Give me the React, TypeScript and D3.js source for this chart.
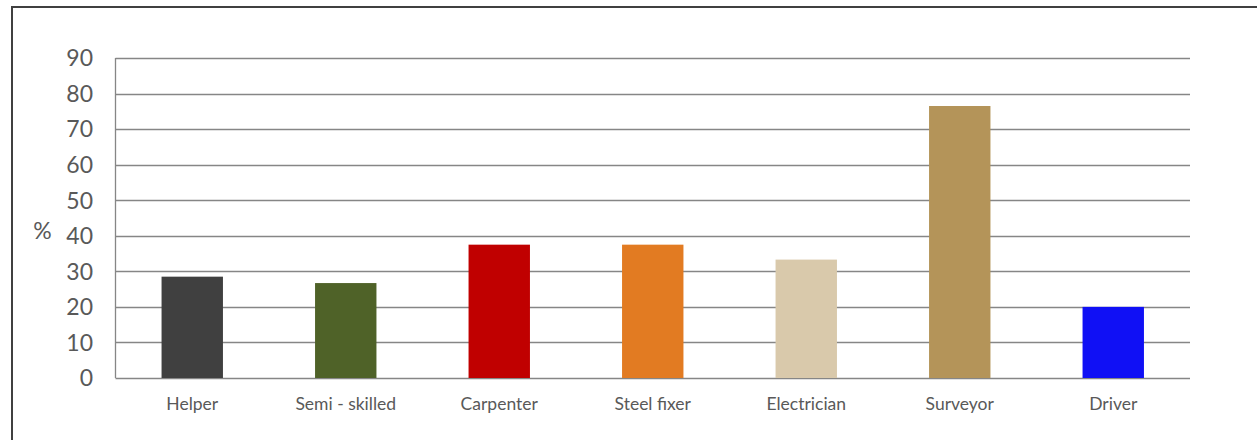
import React from "react";
import * as d3 from "d3";

const categories = ["Helper", "Semi - skilled", "Carpenter", "Steel fixer", "Electrician", "Surveyor", "Driver"];
const values = [28.5, 26.7, 37.5, 37.5, 33.3, 76.5, 20.0];
const colors = ["#404040", "#4F6228", "#C00000", "#E27B22", "#D9C9AB", "#B49459", "#1010F5"];
const yTicks = [0, 10, 20, 30, 40, 50, 60, 70, 80, 90];
const yLabel = "%";

const W = 1257;
const H = 440;
const left = 115.5;
const right = 1190;
const top = 58;
const bottom = 378;
const font = "Lato, 'Open Sans', sans-serif";

export default function App() {
  const x = d3.scaleBand<string>().domain(categories).range([left, right]).paddingInner(0.6).paddingOuter(0.3);
  const y = d3.scaleLinear().domain([0, 90]).range([bottom, top]);
  return (
    <svg width={W} height={H} style={{ position: "absolute", left: 0, top: 0, background: "#fff" }}>
      <rect x={12} y={7} width={W + 20} height={H + 20} fill="#fff" stroke="#404040" strokeWidth={2} />
      {yTicks.map((t) => (
        <line key={"g" + t} x1={left} x2={right} y1={Math.round(y(t)) + 0.5} y2={Math.round(y(t)) + 0.5} stroke="#868686" strokeWidth={1.3} />
      ))}
      <line x1={left} x2={left} y1={top} y2={bottom} stroke="#868686" strokeWidth={1.3} />
      {categories.map((c, i) => (
        <rect key={c} x={x(c)} y={y(values[i])} width={x.bandwidth()} height={bottom - y(values[i])} fill={colors[i]} />
      ))}
      {yTicks.map((t) => (
        <text key={"t" + t} x={93} y={y(t)} dy="0.36em" textAnchor="end" fontFamily={font} fontSize={23} fill="#595959">
          {t}
        </text>
      ))}
      <text x={42.5} y={y(40) - 5} dy="0.36em" textAnchor="middle" fontFamily={font} fontSize={23} fill="#595959">
        {yLabel}
      </text>
      {categories.map((c) => (
        <text key={"x" + c} x={(x(c) as number) + x.bandwidth() / 2} y={410} textAnchor="middle" fontFamily={font} fontSize={17.5} fill="#595959">
          {c}
        </text>
      ))}
    </svg>
  );
}
